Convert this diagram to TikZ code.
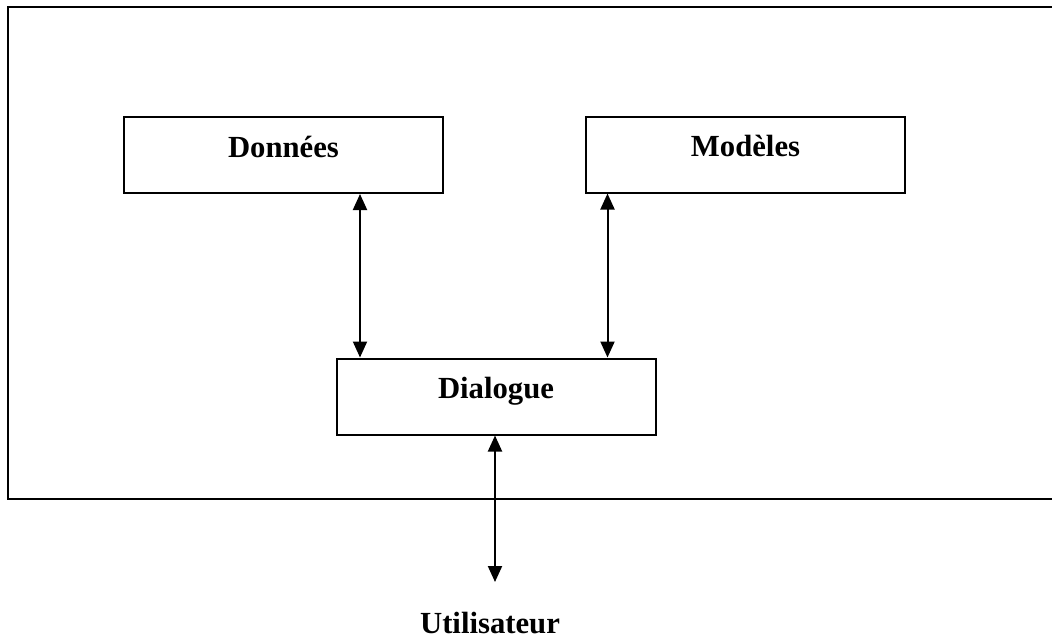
\documentclass[tikz,border=0pt]{standalone}
\usepackage{fontspec}
\setmainfont{Liberation Serif}
\usetikzlibrary{arrows.meta}
\begin{document}
\begin{tikzpicture}[x=1pt,y=-1pt,
  lbl/.style={font=\fontsize{30.7}{36}\selectfont\bfseries},
  blk/.style={draw=black, line width=2pt, inner sep=0pt, minimum width=319pt,
    text height=40pt, text depth=36pt, lbl},
  link/.style={line width=2pt, {Triangle[length=16pt,width=14pt]}-{Triangle[length=16pt,width=14pt]}}
]
\useasboundingbox (0,0) rectangle (1052,641);
\clip (0,0) rectangle (1052,641);
% outer frame (right side runs off the picture)
\draw[line width=2.5pt] (1070,7) -- (8,7) -- (8,499) -- (1070,499);

\node[blk] (don) at (283.5,155) {Données};
\node[blk] (mod) at (745.5,154.5) {Modèles};
\node[blk] (dia) at (496,396.5) {Dialogue};
\node[lbl, anchor=base, inner sep=0pt] (user) at (490,633) {Utilisateur};

\coordinate (c1) at (360,0);
\coordinate (c2) at (607.5,0);
\coordinate (c3) at (495,0);
\coordinate (uend) at (495,582);

\draw[link] (don.south -| c1) -- (dia.north -| c1);
\draw[link] (mod.south -| c2) -- (dia.north -| c2);
\draw[link] (dia.south -| c3) -- (uend);
\end{tikzpicture}
\end{document}
